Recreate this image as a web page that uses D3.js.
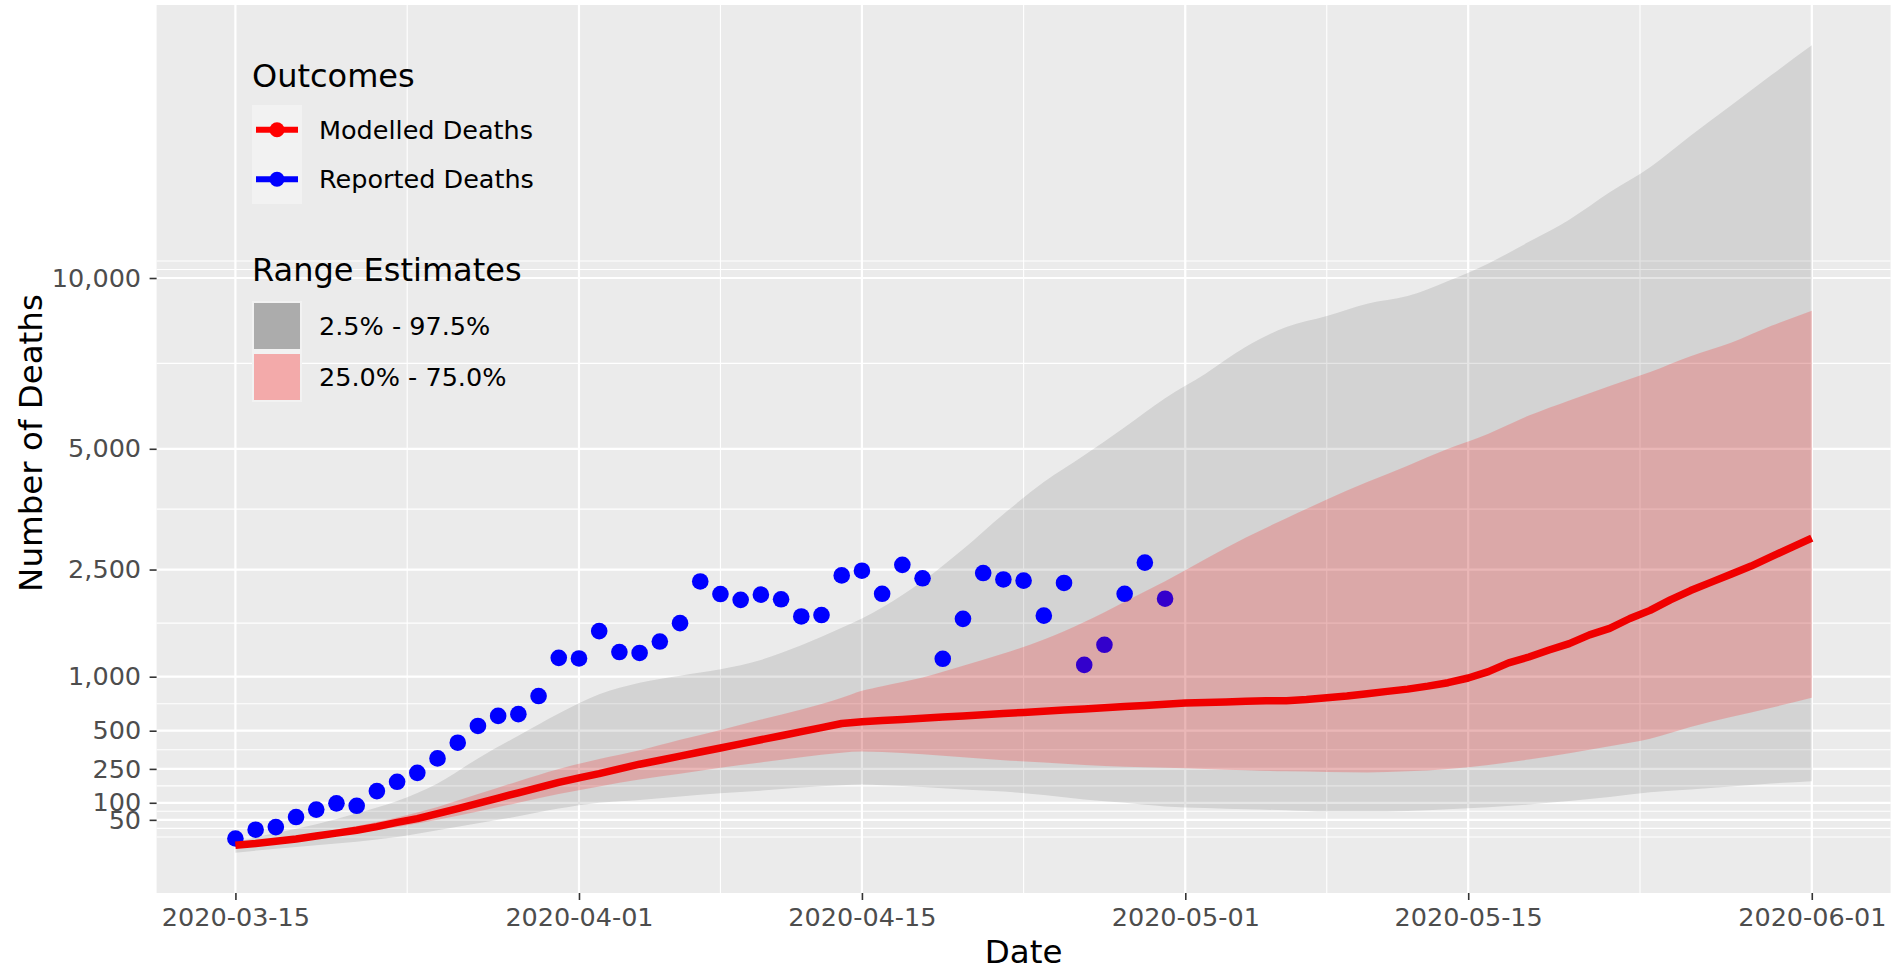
<!DOCTYPE html>
<html>
<head>
<meta charset="utf-8">
<script src="https://cdn.jsdelivr.net/npm/d3@7"></script>
<style>
  body { margin: 0; background: #ffffff; }
  text { font-family: "DejaVu Sans", sans-serif; }
</style>
</head>
<body>
<div id="chart"></div>
<script>

// 1. Data

const firstDay = "2020-03-15"
const tickDates = ["2020-03-15", "2020-04-01", "2020-04-15", "2020-05-01", "2020-05-15", "2020-06-01"]
const yTicks = [50, 100, 250, 500, 1000, 2500, 5000, 10000]

// one value per day, starting at firstDay
const modelledDeaths = [
  7.3, 9, 11.6, 14.4, 18.5, 23, 28, 35, 44, 53,
  66, 81, 98, 117, 137, 159, 182, 204, 225, 250,
  276, 299, 324, 350, 376, 404, 433, 462, 493, 524,
  557, 571, 581, 590, 600, 610, 620, 630, 640, 650,
  660, 671, 681, 692, 702, 713, 724, 734, 740, 745,
  751, 756, 756, 767, 784, 801, 824, 847, 870, 900,
  936, 986, 1056, 1156, 1225, 1310, 1391, 1505, 1592, 1731,
  1849, 2007, 2153, 2285, 2421, 2560, 2725, 2894, 3069
]

const reportedDeaths = [
  15, 29, 34, 57, 78, 98, 90, 144, 185, 229,
  310, 412, 537, 620, 635, 801, 1215, 1208, 1556, 1285,
  1274, 1418, 1665, 2300, 2098, 2007, 2088, 2016, 1760, 1781,
  2401, 2480, 2102, 2581, 2352, 1204, 1726, 2440, 2333, 2314,
  1772, 2275, 1132, 1376, 2102, 2621, 2025
]

// ribbons, sampled on these day offsets
const rangeDays = [0, 2, 4, 6, 8, 10, 12, 14, 16, 18, 20, 22, 24, 26, 28, 30, 31,
  32, 34, 36, 38, 40, 42, 44, 46, 48, 50, 52, 54, 56, 58, 60, 62, 64, 66, 68, 70, 72, 74, 76, 78]

const outerLow = [2.1, 4.4, 7.3, 11, 17, 28, 42, 59, 81, 100, 110, 123, 135, 146, 159, 169, 172,
  169, 161, 151, 142, 128, 112, 100, 88, 83, 79, 76, 72, 72, 74, 79, 85, 94, 106, 121, 139, 151, 164, 177, 188]
const outerHigh = [10.9, 23, 40, 67, 106, 177, 310, 462, 640, 818, 936, 1011, 1082, 1190, 1369, 1600, 1731,
  1892, 2304, 2862, 3540, 4225, 4844, 5535, 6304, 6989, 7779, 8391, 8742, 9139, 9390, 9900, 10506, 11278,
  12100, 13156, 14161, 15475, 16796, 18171, 19572]
const innerLow = [6.3, 10.2, 15.2, 23, 34, 50, 72, 100, 132, 164, 196, 225, 256, 286, 317, 346, 353,
  350, 335, 317, 299, 286, 272, 262, 256, 250, 243, 237, 234, 231, 237, 250, 272, 303, 342, 388, 441, 529, 610, 692, 784]
const innerHigh = [8.4, 14.4, 23, 36, 56, 86, 132, 188, 250, 306, 361, 433, 506, 590, 676, 784, 853,
  900, 992, 1122, 1267, 1444, 1681, 1980, 2304, 2683, 3080, 3457, 3844, 4225, 4597, 4998, 5373, 5837,
  6241, 6642, 7039, 7500, 7903, 8427, 8911]

const outcomeLabels = ["Modelled Deaths", "Reported Deaths"]
const outcomeColors = ["#ff0000", "#0000ff"]
const rangeLabels = ["2.5% - 97.5%", "25.0% - 75.0%"]
const rangeKeyColors = ["#acacac", "#f3aaaa"]

const parseDate = d3.utcParse("%Y-%m-%d")
const startDate = parseDate(firstDay)
const dayDate = i => d3.utcDay.offset(startDate, i)

const modelledData = modelledDeaths.map((v, i) => ({date: dayDate(i), value: v}))
const reportedData = reportedDeaths.map((v, i) => ({date: dayDate(i), value: v}))
const rangeData = rangeDays.map((d, i) => ({
  date: dayDate(d),
  outerLow: outerLow[i], outerHigh: outerHigh[i],
  innerLow: innerLow[i], innerHigh: innerHigh[i],
}))

// 2. Dimensions

let dimensions = {
  width: 1893,
  height: 971,
  margin: {top: 5, right: 2.4, bottom: 78, left: 156.6},
}
dimensions.boundedWidth = dimensions.width - dimensions.margin.left - dimensions.margin.right
dimensions.boundedHeight = dimensions.height - dimensions.margin.top - dimensions.margin.bottom

// 3. Canvas

const svg = d3.select("#chart")
  .append("svg")
    .attr("width", dimensions.width)
    .attr("height", dimensions.height)

const bounds = svg.append("g")
    .attr("transform", `translate(${dimensions.margin.left},${dimensions.margin.top})`)

// 4. Scales (ggplot style: 5% expansion, sqrt y)

const xExtent = d3.extent(modelledData, d => d.date)
const xPad = (xExtent[1] - xExtent[0]) * 0.05
const xScale = d3.scaleUtc()
    .domain([new Date(+xExtent[0] - xPad), new Date(+xExtent[1] + xPad)])
    .range([0, dimensions.boundedWidth])

const allValues = [...modelledDeaths, ...reportedDeaths, ...outerLow, ...outerHigh, ...innerLow, ...innerHigh]
const sqrtExtent = d3.extent(allValues).map(Math.sqrt)
const yPad = (sqrtExtent[1] - sqrtExtent[0]) * 0.05
const signedSquare = s => Math.sign(s) * s * s
const sLo = sqrtExtent[0] - yPad
const sHi = sqrtExtent[1] + yPad
const yScale = d3.scaleSqrt()
    .domain([signedSquare(sLo), signedSquare(sHi)])
    .range([dimensions.boundedHeight, 0])

// minor breaks like ggplot: midpoints in transformed space, one extra step each side
function minorBreaks(majors, lo, hi) {
  const b = majors.slice()
  const bd = b[1] - b[0]
  if (lo < b[0]) b.unshift(b[0] - bd)
  if (hi > b[b.length - 1]) b.push(b[b.length - 1] + bd)
  const out = []
  for (let i = 0; i < b.length - 1; i++) out.push(b[i], (b[i] + b[i + 1]) / 2)
  out.push(b[b.length - 1])
  return out.filter(v => v >= lo && v <= hi)
}

// 5. Panel and grid

bounds.append("rect")
    .attr("width", dimensions.boundedWidth)
    .attr("height", dimensions.boundedHeight)
    .attr("fill", "#ebebeb")

const xMajor = tickDates.map(d => +parseDate(d))
const xDom = xScale.domain().map(d => +d)
const xMinor = minorBreaks(xMajor, xDom[0], xDom[1])
const yMajorS = yTicks.map(Math.sqrt)
const yMinor = minorBreaks(yMajorS, sLo, sHi)

const grid = bounds.append("g").attr("stroke", "#ffffff")
grid.selectAll(".y-minor")
  .data(yMinor)
  .join("line")
    .attr("x1", 0).attr("x2", dimensions.boundedWidth)
    .attr("y1", d => yScale(signedSquare(d))).attr("y2", d => yScale(signedSquare(d)))
    .attr("stroke-width", 1.1)
grid.selectAll(".x-minor")
  .data(xMinor)
  .join("line")
    .attr("y1", 0).attr("y2", dimensions.boundedHeight)
    .attr("x1", d => xScale(new Date(d))).attr("x2", d => xScale(new Date(d)))
    .attr("stroke-width", 1.1)
grid.append("g").selectAll("line")
  .data(yTicks)
  .join("line")
    .attr("x1", 0).attr("x2", dimensions.boundedWidth)
    .attr("y1", d => yScale(d)).attr("y2", d => yScale(d))
    .attr("stroke-width", 2.2)
grid.append("g").selectAll("line")
  .data(xMajor)
  .join("line")
    .attr("y1", 0).attr("y2", dimensions.boundedHeight)
    .attr("x1", d => xScale(new Date(d))).attr("x2", d => xScale(new Date(d)))
    .attr("stroke-width", 2.2)

// 6. Data

const outerArea = d3.area()
    .x(d => xScale(d.date))
    .y0(d => yScale(d.outerLow))
    .y1(d => yScale(d.outerHigh))
    .curve(d3.curveMonotoneX)

const innerArea = d3.area()
    .x(d => xScale(d.date))
    .y0(d => yScale(d.innerLow))
    .y1(d => yScale(d.innerHigh))
    .curve(d3.curveMonotoneX)

bounds.append("path")
    .datum(rangeData)
    .attr("d", outerArea)
    .attr("fill", "#000000")
    .attr("fill-opacity", 0.1)

bounds.append("g").selectAll("circle")
  .data(reportedData)
  .join("circle")
    .attr("cx", d => xScale(d.date))
    .attr("cy", d => yScale(d.value))
    .attr("r", 8.3)
    .attr("fill", outcomeColors[1])

bounds.append("path")
    .datum(rangeData)
    .attr("d", innerArea)
    .attr("fill", "#ff0000")
    .attr("fill-opacity", 0.2)

const lineGenerator = d3.line()
    .x(d => xScale(d.date))
    .y(d => yScale(d.value))

bounds.append("path")
    .datum(modelledData)
    .attr("d", lineGenerator)
    .attr("fill", "none")
    .attr("stroke", "#f00000")
    .attr("stroke-width", 7.5)
    .attr("stroke-linejoin", "round")

// 7. Axes

const xAxis = d3.axisBottom(xScale)
    .tickValues(tickDates.map(parseDate))
    .tickFormat(d3.utcFormat("%Y-%m-%d"))
    .tickSize(7)
    .tickPadding(8)

const xAxisGroup = bounds.append("g")
    .attr("transform", `translate(0,${dimensions.boundedHeight})`)
    .call(xAxis)

const yAxis = d3.axisLeft(yScale)
    .tickValues(yTicks)
    .tickFormat(d3.format(","))
    .tickSize(7)
    .tickPadding(8.5)

const yAxisGroup = bounds.append("g").call(yAxis)

for (const g of [xAxisGroup, yAxisGroup]) {
  g.select(".domain").remove()
  g.selectAll(".tick line").attr("stroke", "#333333").attr("stroke-width", 1.6)
  g.selectAll(".tick text")
      .attr("fill", "#4d4d4d")
      .style("font-size", "25.5px")
      .style("font-family", "'DejaVu Sans', sans-serif")
}

svg.append("text")
    .attr("x", dimensions.margin.left + dimensions.boundedWidth / 2)
    .attr("y", 963)
    .attr("text-anchor", "middle")
    .style("font-size", "32.5px")
    .text("Date")

svg.append("text")
    .attr("transform", `translate(42,${dimensions.margin.top + dimensions.boundedHeight / 2 - 6}) rotate(-90)`)
    .attr("text-anchor", "middle")
    .style("font-size", "32.5px")
    .text("Number of Deaths")

// 8. Legends

const legend = svg.append("g")

legend.append("text")
    .attr("x", 252)
    .attr("y", 87)
    .style("font-size", "32px")
    .text("Outcomes")

const keySize = 49.5
const outcomeTop = 105

legend.append("rect")
    .attr("x", 252).attr("y", outcomeTop)
    .attr("width", 50).attr("height", keySize * outcomeLabels.length)
    .attr("fill", "#f2f2f2")

const outcomeKeys = legend.selectAll(".outcome-key")
  .data(outcomeLabels)
  .join("g")
    .attr("transform", (d, i) => `translate(252,${outcomeTop + keySize * i + keySize / 2})`)

outcomeKeys.append("line")
    .attr("x1", 4).attr("x2", 46)
    .attr("stroke", (d, i) => outcomeColors[i])
    .attr("stroke-width", 6)
outcomeKeys.append("circle")
    .attr("cx", 25)
    .attr("r", 7.5)
    .attr("fill", (d, i) => outcomeColors[i])
outcomeKeys.append("text")
    .attr("x", 67)
    .attr("y", 9)
    .style("font-size", "25.5px")
    .text(d => d)

legend.append("text")
    .attr("x", 252)
    .attr("y", 281)
    .style("font-size", "32px")
    .text("Range Estimates")

const rangeTop = 301

legend.append("rect")
    .attr("x", 252).attr("y", rangeTop)
    .attr("width", 50).attr("height", 50.5 * rangeLabels.length)
    .attr("fill", "#f2f2f2")

const rangeKeys = legend.selectAll(".range-key")
  .data(rangeLabels)
  .join("g")
    .attr("transform", (d, i) => `translate(252,${rangeTop + 51 * i})`)

rangeKeys.append("rect")
    .attr("x", 2).attr("y", 2)
    .attr("width", 46).attr("height", 46)
    .attr("fill", (d, i) => rangeKeyColors[i])
rangeKeys.append("text")
    .attr("x", 67)
    .attr("y", 34)
    .style("font-size", "25.5px")
    .text(d => d)

</script>
</body>
</html>
